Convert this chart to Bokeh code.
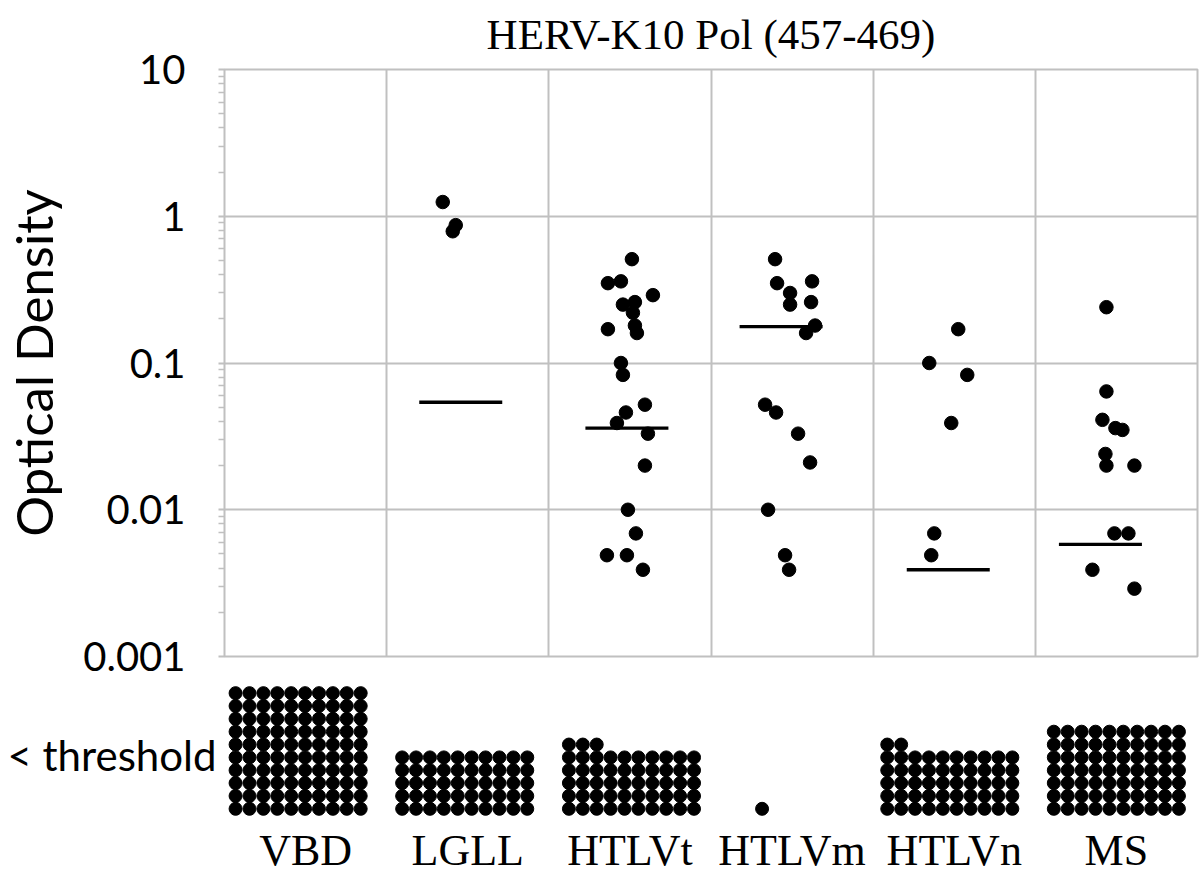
from bokeh.plotting import figure
from bokeh.layouts import column
from bokeh.models import Range1d, FixedTicker, CustomJSTickFormatter, Grid
from bokeh.embed import file_html
from bokeh.resources import INLINE

# ---------------- data ----------------
categories = ["VBD", "LGLL", "HTLVt", "HTLVm", "HTLVn", "MS"]

od_vbd = []
od_lgll = [1.25, 0.87, 0.79]
od_htlvt = [0.51, 0.35, 0.36, 0.29, 0.25, 0.26, 0.22, 0.17, 0.18, 0.16, 0.10,
            0.083, 0.052, 0.046, 0.039, 0.033, 0.020, 0.010, 0.0069, 0.0049,
            0.0049, 0.0039]
od_htlvm = [0.51, 0.35, 0.36, 0.30, 0.25, 0.26, 0.18, 0.16, 0.052, 0.046,
            0.033, 0.021, 0.010, 0.0049, 0.0039]
od_htlvn = [0.17, 0.10, 0.083, 0.039, 0.0069, 0.0049]
od_ms = [0.24, 0.064, 0.041, 0.036, 0.035, 0.024, 0.020, 0.020, 0.0069,
         0.0069, 0.0039, 0.0029]

summary_line = [None, 0.054, 0.036, 0.177, 0.0039, 0.0058]
below_threshold_counts = [100, 50, 53, 1, 52, 70]

y_tick_values = [0.001, 0.01, 0.1, 1, 10]
y_tick_labels = ["0.001", "0.01", "0.1", "1", "10"]
title_text = "HERV-K10 Pol (457-469)"
y_title = "Optical Density"
threshold_label = "< threshold"

# ---------------- layout (pixels) ----------------
FRAME_W = 973
FRAME_H = 587
PX_CAT = FRAME_W / len(categories)
# horizontal scatter offsets (px) of the dots, in the order of each series
jitter_px = {
    "VBD": [],
    "LGLL": [-25, -12, -15],
    "HTLVt": [2, -22, -9, 23, -7, 5, 3, -22, 5, 7, -9, -7, 15, -4, -13, 18,
              15, -2, 6, -23, -3, 13],
    "HTLVm": [-17, -15, 20, -2, -2, 19, 23, 14, -27, -16, 6, 18, -24, -7, -3],
    "HTLVn": [4, -25, 13, -3, -20, -23],
    "MS": [-10, -10, -14, -1, 6, -11, -10, 18, -2, 12, -24, 18],
}
line_center_px = [0, -7, -3, -11, -6, -16]
LINE_HALF_PX = 41.5
grid_left_px = [-70, -65.6, -61, -30, -67, -62.6]
COL_PX = 13.9
ROW_PX = 12.85
B_FRAME_H = 135
BOTTOM_ROW_PX = 8.7
GRID_COLS = 10

GRID_GRAY = "#c0c0c0"
SERIF = "Liberation Serif"
SANS = "Lato"

series = [od_vbd, od_lgll, od_htlvt, od_htlvm, od_htlvn, od_ms]

# ---------------- top panel ----------------
p = figure(frame_width=FRAME_W, frame_height=FRAME_H,
           x_range=Range1d(0, len(categories)), y_range=Range1d(0.001, 10),
           y_axis_type="log", x_axis_location=None,
           min_border_left=224, min_border_right=3, min_border_top=69,
           min_border_bottom=24, output_backend="svg", toolbar_location=None)
p.title.text = title_text
p.title.align = "center"
p.title.vertical_align = "top"
p.title.text_font = SERIF
p.title.text_font_style = "normal"
p.title.text_font_size = "43px"
p.title.standoff = 19
p.title.text_color = "black"

p.outline_line_color = GRID_GRAY
p.outline_line_width = 2
p.outline_line_alpha = 1.0
p.background_fill_color = "white"
p.border_fill_color = "white"

minor = [k * 10.0 ** e for e in range(-3, 1) for k in range(2, 10)]
p.yaxis.ticker = FixedTicker(ticks=y_tick_values, minor_ticks=minor)
p.yaxis.formatter = CustomJSTickFormatter(
    args=dict(vals=y_tick_values, labels=y_tick_labels),
    code="""
    for (let i = 0; i < vals.length; i++) {
        if (Math.abs(Math.log10(vals[i]) - Math.log10(tick)) < 1e-6) return labels[i];
    }
    return '';
    """)
p.yaxis.axis_line_color = None
p.yaxis.major_tick_in = 0
p.yaxis.minor_tick_in = 0
p.yaxis.major_tick_out = 6
p.yaxis.minor_tick_out = 6
p.yaxis.major_tick_line_color = GRID_GRAY
p.yaxis.minor_tick_line_color = GRID_GRAY
p.yaxis.major_tick_line_width = 2
p.yaxis.minor_tick_line_width = 1.5
p.yaxis.major_label_text_font = SANS
p.yaxis.major_label_text_font_size = "40px"
p.yaxis.major_label_text_color = "black"
p.yaxis.major_label_standoff = 33
p.yaxis.axis_label = y_title
p.yaxis.axis_label_text_font = SANS
p.yaxis.axis_label_text_font_size = "51px"
p.yaxis.axis_label_text_font_style = "normal"
p.yaxis.axis_label_text_color = "black"
p.yaxis.axis_label_standoff = 16

p.ygrid.ticker = FixedTicker(ticks=y_tick_values)
p.ygrid.grid_line_color = GRID_GRAY
p.ygrid.grid_line_width = 2
p.xgrid.visible = False
p.add_layout(Grid(dimension=0, ticker=FixedTicker(ticks=list(range(1, len(categories)))),
                  grid_line_color=GRID_GRAY, grid_line_width=2))

xs, ys = [], []
for i, (cat, vals) in enumerate(zip(categories, series)):
    for v, j in zip(vals, jitter_px[cat]):
        xs.append(i + 0.5 + j / PX_CAT)
        ys.append(v)
p.scatter(xs, ys, size=13.5, marker="circle", color="black")

x0, x1, ym = [], [], []
for i, v in enumerate(summary_line):
    if v is None:
        continue
    c = i + 0.5 + line_center_px[i] / PX_CAT
    x0.append(c - LINE_HALF_PX / PX_CAT)
    x1.append(c + LINE_HALF_PX / PX_CAT)
    ym.append(v)
p.segment(x0=x0, y0=ym, x1=x1, y1=ym, line_width=3.3, color="black")

# ---------------- bottom panel (below threshold) ----------------
p2 = figure(frame_width=FRAME_W, frame_height=B_FRAME_H, x_range=p.x_range,
            y_range=Range1d(-BOTTOM_ROW_PX / ROW_PX, (B_FRAME_H - BOTTOM_ROW_PX) / ROW_PX),
            min_border_left=224, min_border_right=3, min_border_top=2,
            min_border_bottom=0, output_backend="svg", toolbar_location=None)
p2.outline_line_color = None
p2.grid.visible = False
p2.background_fill_color = "white"
p2.border_fill_color = "white"

bx, by = [], []
for i, n in enumerate(below_threshold_counts):
    left = i + 0.5 + grid_left_px[i] / PX_CAT
    for k in range(n):
        bx.append(left + (k % GRID_COLS) * COL_PX / PX_CAT)
        by.append(k // GRID_COLS)
p2.scatter(bx, by, size=13, marker="circle", color="black")

p2.xaxis.ticker = FixedTicker(ticks=[i + 0.5 for i in range(len(categories))])
p2.xaxis.formatter = CustomJSTickFormatter(args=dict(labels=categories),
                                           code="return labels[Math.floor(tick)];")
p2.xaxis.axis_line_color = None
p2.xaxis.major_tick_line_color = None
p2.xaxis.minor_tick_line_color = None
p2.xaxis.major_label_text_font = SERIF
p2.xaxis.major_label_text_font_size = "44px"
p2.xaxis.major_label_text_color = "black"
p2.xaxis.major_label_standoff = 2

p2.yaxis.ticker = FixedTicker(ticks=[4.15])
p2.yaxis.formatter = CustomJSTickFormatter(args=dict(lab=threshold_label),
                                           code="return lab;")
p2.yaxis.axis_line_color = None
p2.yaxis.major_tick_line_color = None
p2.yaxis.minor_tick_line_color = None
p2.yaxis.major_label_text_font = SANS
p2.yaxis.major_label_text_font_size = "42px"
p2.yaxis.major_label_text_color = "black"
p2.yaxis.major_label_standoff = 2

layout = column(p, p2, spacing=0)
open("out.html", "w").write(file_html(layout, INLINE))
